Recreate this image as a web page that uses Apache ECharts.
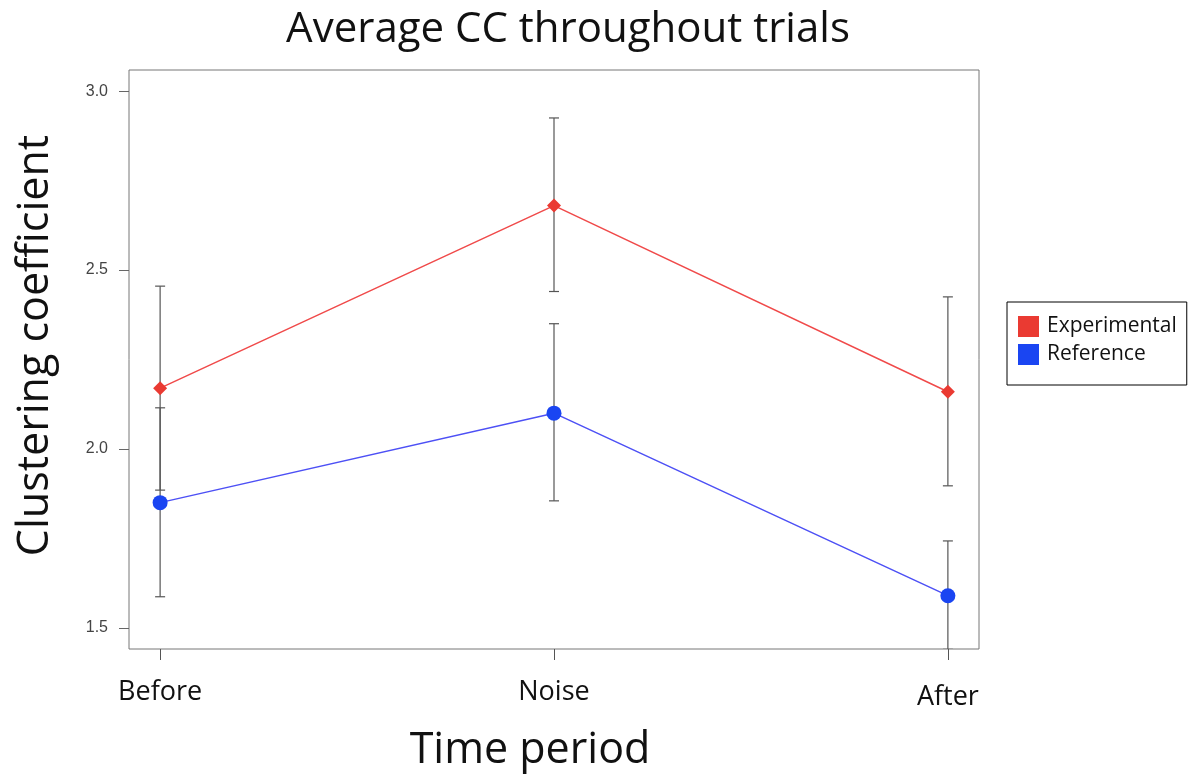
<!DOCTYPE html>
<html>
<head>
<meta charset="utf-8">
<title>Average CC throughout trials</title>
<script src="https://cdn.jsdelivr.net/npm/echarts@6/dist/echarts.min.js"></script>
<style>
    html, body { margin: 0; padding: 0; background: #fff; }
    #chart { width: 1189px; height: 774px; }
</style>
</head>
<body>
<div id="chart"></div>
<script>
// 分类与数据
const periods = ['Before', 'Noise', 'After'];
const yTicks = [1.5, 2.0, 2.5, 3.0];

const experimentalMean = [2.17, 2.68, 2.16];
const experimentalLow = [1.885, 2.44, 1.897];
const experimentalHigh = [2.455, 2.925, 2.425];

const referenceMean = [1.85, 2.10, 1.59];
const referenceLow = [1.587, 1.855, 1.44];
const referenceHigh = [2.115, 2.35, 1.743];

const FONT = 'Open Sans';

// 误差线数据 [x, low, high]
function errorData(low, high) {
    return periods.map((p, i) => [i, low[i], high[i]]);
}

function renderErrorBar(params, api) {
    const x = api.value(0);
    const lo = api.coord([x, api.value(1)]);
    const hi = api.coord([x, api.value(2)]);
    const half = 5;
    const style = { stroke: '#555', lineWidth: 1.2 };
    return {
        type: 'group',
        children: [
            { type: 'line', shape: { x1: lo[0], y1: lo[1], x2: hi[0], y2: hi[1] }, style: style },
            { type: 'line', shape: { x1: hi[0] - half, y1: hi[1], x2: hi[0] + half, y2: hi[1] }, style: style },
            { type: 'line', shape: { x1: lo[0] - half, y1: lo[1], x2: lo[0] + half, y2: lo[1] }, style: style }
        ]
    };
}

const chart = echarts.init(document.getElementById('chart'));

const option = {
    animation: false,
    textStyle: { fontFamily: FONT },
    title: {
        text: 'Average CC throughout trials',
        left: 563,
        top: 4,
        textAlign: 'center',
        textStyle: { fontFamily: FONT, fontSize: 42, fontWeight: 'normal', color: '#111' }
    },
    legend: {
        data: ['Experimental', 'Reference'],
        orient: 'vertical',
        left: 1007,
        top: 302,
        icon: 'rect',
        itemWidth: 21,
        itemHeight: 21,
        itemGap: 7,
        padding: [14, 10, 20, 11],
        borderColor: '#000',
        borderWidth: 1,
        textStyle: { fontFamily: FONT, fontSize: 21, color: '#111', padding: [0, 0, 0, 3] }
    },
    grid: {
        left: 129,
        right: 210,
        top: 70,
        bottom: 125,
        outerBoundsMode: 'none',
        show: true,
        borderColor: '#777',
        borderWidth: 1
    },
    xAxis: {
        type: 'value',
        min: -0.079,
        max: 2.079,
        name: 'Time period',
        nameLocation: 'middle',
        nameGap: 80,
        nameTextStyle: { fontFamily: FONT, fontSize: 43, color: '#111', padding: [0, 48, 0, 0] },
        axisLine: { show: false, onZero: false },
        splitLine: { show: false },
        axisTick: {
            show: true,
            length: 11,
            customValues: [0, 1, 2],
            lineStyle: { color: '#555' }
        },
        axisLabel: {
            customValues: [0, 1, 2],
            margin: 30,
            fontSize: 27,
            color: '#111',
            // After 标签在原图中略低
            formatter: v => {
                const name = periods[Math.round(v)];
                return name === 'After' ? '{low|' + name + '}' : name;
            },
            rich: {
                low: { fontSize: 27, color: '#111', fontFamily: FONT, padding: [5, 0, 0, 0] }
            }
        }
    },
    yAxis: {
        type: 'value',
        min: 1.441,
        max: 3.059,
        name: 'Clustering coefficient',
        nameLocation: 'middle',
        nameRotate: 90,
        nameGap: 72,
        nameTextStyle: { fontFamily: FONT, fontSize: 43, color: '#111', padding: [0, 0, 0, 28] },
        axisLine: { show: false, onZero: false },
        splitLine: { show: false },
        axisTick: {
            show: true,
            length: 10,
            customValues: yTicks,
            lineStyle: { color: '#666' }
        },
        axisLabel: {
            customValues: yTicks,
            margin: 21,
            fontSize: 16,
            color: '#444',
            fontFamily: 'Liberation Sans',
            formatter: v => v.toFixed(1)
        }
    },
    series: [
        {
            name: 'Experimental errors',
            type: 'custom',
            renderItem: renderErrorBar,
            data: errorData(experimentalLow, experimentalHigh),
            clip: true,
            z: 1
        },
        {
            name: 'Reference errors',
            type: 'custom',
            renderItem: renderErrorBar,
            data: errorData(referenceLow, referenceHigh),
            clip: true,
            z: 1
        },
        {
            name: 'Experimental',
            type: 'line',
            data: experimentalMean.map((v, i) => [i, v]),
            symbol: 'diamond',
            symbolSize: 14,
            itemStyle: { color: '#ea3a32' },
            lineStyle: { color: '#f04a4a', width: 1.5 },
            z: 2
        },
        {
            name: 'Reference',
            type: 'line',
            data: referenceMean.map((v, i) => [i, v]),
            symbol: 'circle',
            symbolSize: 15,
            itemStyle: { color: '#1a45f2' },
            lineStyle: { color: '#4d50f5', width: 1.5 },
            z: 2
        }
    ]
};

chart.setOption(option);
</script>
</body>
</html>
